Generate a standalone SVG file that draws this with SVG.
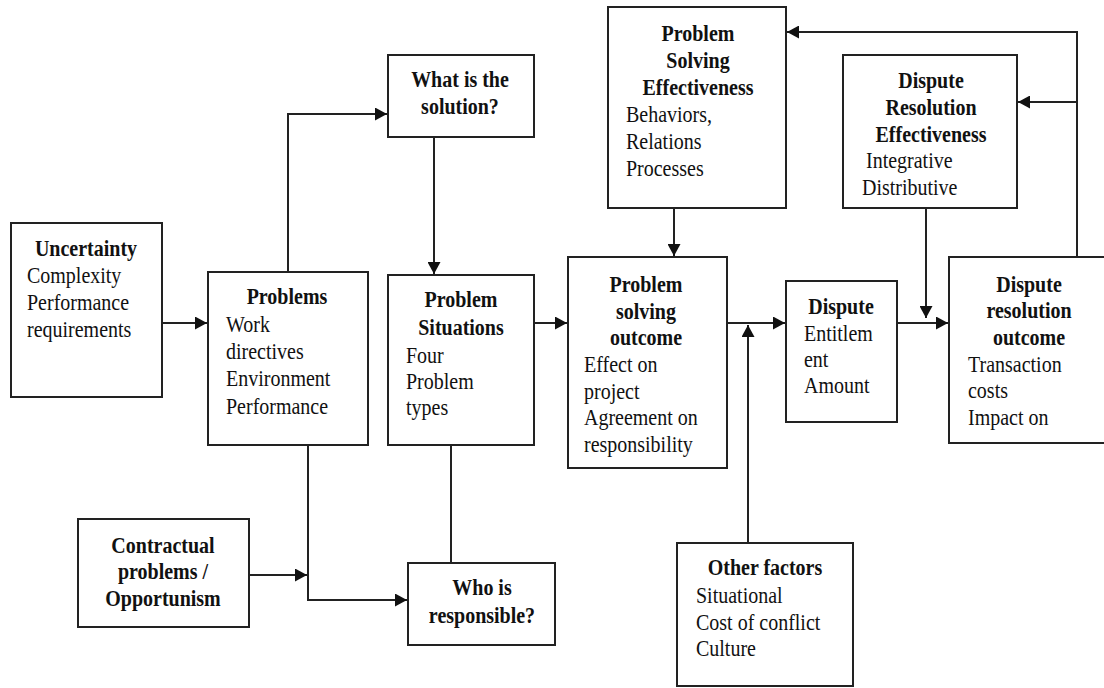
<svg xmlns="http://www.w3.org/2000/svg" width="1104" height="688" viewBox="0 0 1104 688">
<defs>
<style>
.box{fill:#fff;stroke:#222;stroke-width:2}
.t{font-family:"Liberation Serif","Times New Roman",serif;font-size:20px;fill:#111;transform-box:fill-box;transform-origin:0 80.5%;transform:scaleY(1.12)}
.b{font-weight:bold;text-anchor:middle}
.c{fill:none;stroke:#222;stroke-width:2}
</style>
<marker id="ah" markerUnits="userSpaceOnUse" markerWidth="13" markerHeight="13" refX="12" refY="6.5" orient="auto">
<path d="M0,0 L12,6.5 L0,13 z" fill="#111"/>
</marker>
</defs>
<rect width="1104" height="688" fill="#fff"/>

<g id="connectors">
<path class="c" d="M162,323 H207" marker-end="url(#ah)"/>
<path class="c" d="M288,272 V114 H387" marker-end="url(#ah)"/>
<path class="c" d="M434,137 V274" marker-end="url(#ah)"/>
<path class="c" d="M534,323 H567" marker-end="url(#ah)"/>
<path class="c" d="M674,208 V256" marker-end="url(#ah)"/>
<path class="c" d="M727,323 H785" marker-end="url(#ah)"/>
<path class="c" d="M748,543 V325" marker-end="url(#ah)"/>
<path class="c" d="M897,323 H948" marker-end="url(#ah)"/>
<path class="c" d="M926,208 V318" marker-end="url(#ah)"/>
<path class="c" d="M1077,257 V32 H787" marker-end="url(#ah)"/>
<path class="c" d="M1077,102 H1018" marker-end="url(#ah)"/>
<path class="c" d="M308,445 V600 H407" marker-end="url(#ah)"/>
<path class="c" d="M249,575 H307" marker-end="url(#ah)"/>
<path class="c" d="M451,445 V563"/>
</g>

<g id="uncertainty">
<rect class="box" x="11" y="223" width="151" height="174"/>
<text class="t b" x="86" y="256">Uncertainty</text>
<text class="t" x="27" y="283">Complexity</text>
<text class="t" x="27" y="310">Performance</text>
<text class="t" x="27" y="337">requirements</text>
</g>

<g id="problems">
<rect class="box" x="208" y="272" width="160" height="173"/>
<text class="t b" x="287" y="304">Problems</text>
<text class="t" x="226" y="332">Work</text>
<text class="t" x="226" y="359">directives</text>
<text class="t" x="226" y="386">Environment</text>
<text class="t" x="226" y="414">Performance</text>
</g>

<g id="what-solution">
<rect class="box" x="388" y="55" width="146" height="82"/>
<text class="t b" x="460" y="87">What is the</text>
<text class="t b" x="460" y="114">solution?</text>
</g>

<g id="problem-situations">
<rect class="box" x="388" y="275" width="146" height="170"/>
<text class="t b" x="461" y="307">Problem</text>
<text class="t b" x="461" y="335">Situations</text>
<text class="t" x="406" y="363">Four</text>
<text class="t" x="406" y="389">Problem</text>
<text class="t" x="406" y="415">types</text>
</g>

<g id="problem-solving-outcome">
<rect class="box" x="568" y="257" width="159" height="211"/>
<text class="t b" x="646" y="292">Problem</text>
<text class="t b" x="646" y="319">solving</text>
<text class="t b" x="646" y="345">outcome</text>
<text class="t" x="584" y="372">Effect on</text>
<text class="t" x="584" y="399">project</text>
<text class="t" x="584" y="425">Agreement on</text>
<text class="t" x="584" y="452">responsibility</text>
</g>

<g id="problem-solving-effectiveness">
<rect class="box" x="608" y="7" width="178" height="201"/>
<text class="t b" x="698" y="41">Problem</text>
<text class="t b" x="698" y="68">Solving</text>
<text class="t b" x="698" y="95">Effectiveness</text>
<text class="t" x="626" y="122">Behaviors,</text>
<text class="t" x="626" y="149">Relations</text>
<text class="t" x="626" y="176">Processes</text>
</g>

<g id="dispute-resolution-effectiveness">
<rect class="box" x="843" y="55" width="174" height="153"/>
<text class="t b" x="931" y="88">Dispute</text>
<text class="t b" x="931" y="115">Resolution</text>
<text class="t b" x="931" y="142">Effectiveness</text>
<text class="t" x="866" y="168">Integrative</text>
<text class="t" x="862" y="195">Distributive</text>
</g>

<g id="dispute">
<rect class="box" x="786" y="281" width="111" height="141"/>
<text class="t b" x="841" y="314">Dispute</text>
<text class="t" x="804" y="341">Entitlem</text>
<text class="t" x="804" y="367">ent</text>
<text class="t" x="804" y="393">Amount</text>
</g>

<g id="dispute-resolution-outcome">
<rect class="box" x="949" y="257" width="165" height="186"/>
<text class="t b" x="1029" y="292">Dispute</text>
<text class="t b" x="1029" y="318">resolution</text>
<text class="t b" x="1029" y="345">outcome</text>
<text class="t" x="968" y="372">Transaction</text>
<text class="t" x="968" y="398">costs</text>
<text class="t" x="968" y="425">Impact on</text>
</g>

<g id="contractual">
<rect class="box" x="78" y="519" width="171" height="108"/>
<text class="t b" x="163" y="553">Contractual</text>
<text class="t b" x="163" y="579">problems /</text>
<text class="t b" x="163" y="606">Opportunism</text>
</g>

<g id="who-responsible">
<rect class="box" x="408" y="563" width="147" height="82"/>
<text class="t b" x="482" y="595">Who is</text>
<text class="t b" x="482" y="623">responsible?</text>
</g>

<g id="other-factors">
<rect class="box" x="677" y="543" width="176" height="143"/>
<text class="t b" x="765" y="575">Other factors</text>
<text class="t" x="696" y="603">Situational</text>
<text class="t" x="696" y="630">Cost of conflict</text>
<text class="t" x="696" y="656">Culture</text>
</g>
</svg>
